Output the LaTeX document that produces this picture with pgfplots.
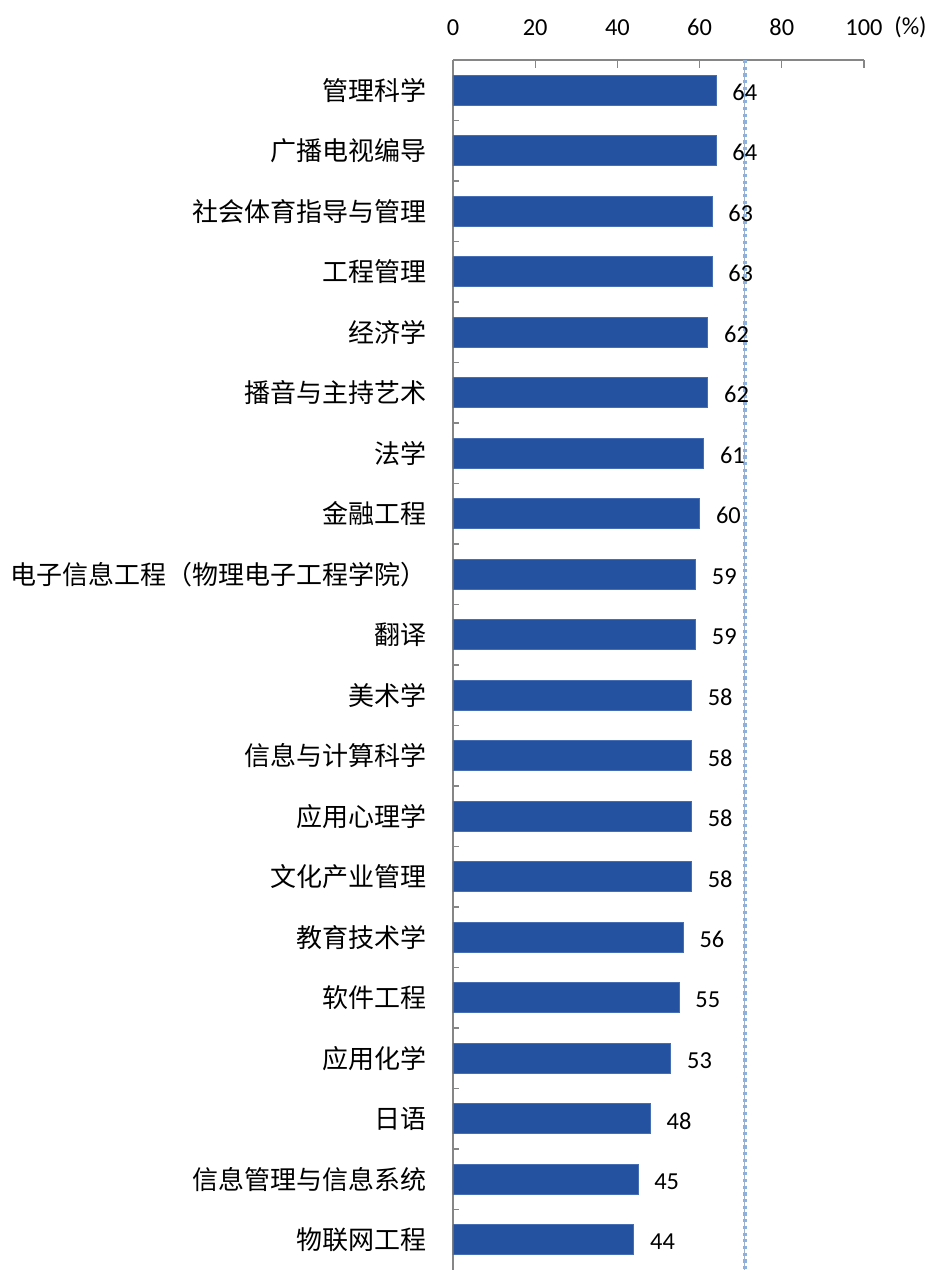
\documentclass[border=0pt]{standalone}
\usepackage{fontspec}
\setmainfont{Carlito}
\newfontfamily\cjk{Noto Sans CJK SC}
\usepackage{pgfplots}
\pgfplotsset{compat=1.18}
\definecolor{barblue}{RGB}{36,82,160}
\definecolor{baredge}{RGB}{70,110,180}
\definecolor{axgray}{RGB}{134,134,134}
\definecolor{refblue}{RGB}{141,176,220}
\definecolor{refline}{RGB}{160,178,200}
\begin{document}
\fontsize{12pt}{14pt}\selectfont
\begin{tikzpicture}
\useasboundingbox (0,0) rectangle (464.5pt,635pt);
\begin{axis}[
  at={(226.5pt,0pt)}, anchor=south west,
  scale only axis, width=205.5pt, height=605pt,
  xmin=0, xmax=100, ymin=-0.5, ymax=19.5, y dir=reverse,
  axis x line*=top, axis y line*=left,
  axis line style={axgray, line width=0.8pt, -},
  tick align=inside,
  xtick={0,20,...,100},
  xticklabels={0,20,40,60,80,100},
  xticklabel style={font=\fontsize{12.2pt}{14pt}\selectfont, yshift=8pt},
  major tick length=4pt,
  minor tick length=3pt,
  tick style={axgray, line width=0.6pt},
  ytick={0,...,19},
  major y tick style={draw=none},
  minor ytick={0.5,1.5,...,18.5},
  yticklabels={管理科学,广播电视编导,社会体育指导与管理,工程管理,经济学,播音与主持艺术,法学,金融工程,电子信息工程（物理电子工程学院）,翻译,美术学,信息与计算科学,应用心理学,文化产业管理,教育技术学,软件工程,应用化学,日语,信息管理与信息系统,物联网工程},
  yticklabel style={font=\cjk\fontsize{13pt}{14pt}\selectfont, xshift=-9pt},
  /pgf/number format/assume math mode=true,
  clip=false,
]
\addplot[xbar, bar width=15pt, fill=barblue, draw=baredge, line width=0.4pt,
  nodes near coords,
  nodes near coords style={font=\fontsize{12.2pt}{14pt}\selectfont, anchor=west, xshift=4pt, yshift=-1pt, black}] coordinates {
(64,0) (64,1) (63,2) (63,3) (62,4) (62,5) (61,6) (60,7) (59,8) (59,9)
(58,10) (58,11) (58,12) (58,13) (56,14) (55,15) (53,16) (48,17) (45,18) (44,19)};
\addplot[refline, line width=0.4pt, mark=none] coordinates {(71,-0.5) (71,19.5)};
\addplot[refblue, line width=1.9pt, dash pattern=on 1.6pt off 1.75pt, mark=none] coordinates {(71,-0.5) (71,19.5)};
\end{axis}
\node[anchor=west, font=\fontsize{12.2pt}{14pt}\selectfont] at (443pt,621.5pt) {(\%)};
\end{tikzpicture}
\end{document}
